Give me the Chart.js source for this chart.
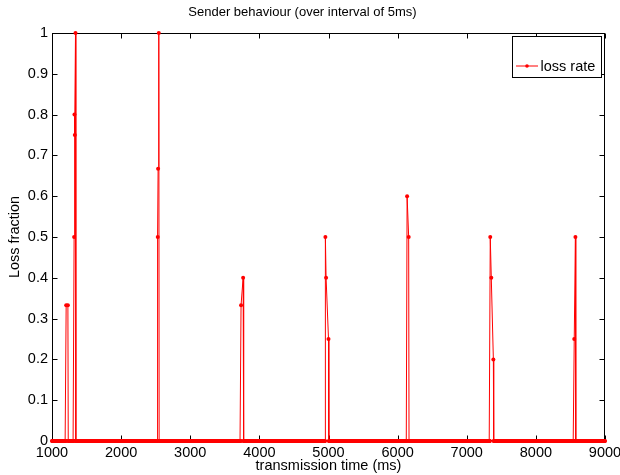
<!DOCTYPE html>
<html><head><meta charset="utf-8">
<script src="https://cdn.jsdelivr.net/npm/chart.js@4/dist/chart.umd.min.js"></script>
<style>html,body{margin:0;padding:0;background:#fff}#wrap{width:620px;height:475px}</style>
</head><body><div id="wrap"><canvas id="c" width="620" height="475"></canvas></div>
<script>
const titleText = 'Sender behaviour (over interval of 5ms)';
const xAxisTitle = 'transmission time (ms)';
const yAxisTitle = 'Loss fraction';
const seriesName = 'loss rate';

const xTicks = [1000, 2000, 3000, 4000, 5000, 6000, 7000, 8000, 9000];
const xTickLabels = ['1000', '2000', '3000', '4000', '5000', '6000', '7000', '8000', '9000'];
const yTicks = [0, 0.1, 0.2, 0.3, 0.4, 0.5, 0.6, 0.7, 0.8, 0.9, 1];
const yTickLabels = ['0', '0.1', '0.2', '0.3', '0.4', '0.5', '0.6', '0.7', '0.8', '0.9', '1'];

// zero-loss samples every 5 ms over the run
const sampleStart = 1000, sampleEnd = 9000, sampleStep = 5;
// non-zero loss samples
const spikeTimes  = [1205, 1230, 1320, 1325, 1330, 1340, 2530, 2535, 2545, 3735, 3765, 4955, 4965, 5000, 6137, 6160, 7340, 7355, 7385, 8555, 8572];
const spikeValues = [0.333, 0.333, 0.5, 0.8, 0.75, 1.0, 0.5, 0.667, 1.0, 0.333, 0.4, 0.5, 0.4, 0.25, 0.6, 0.5, 0.5, 0.4, 0.2, 0.25, 0.5];

// build series
const clusters = [];
spikeTimes.forEach((t, i) => {
  const last = clusters[clusters.length - 1];
  if (last && t - last[1] <= 50) last[1] = t; else clusters.push([t, t]);
});
const points = [];
for (let t = sampleStart; t <= sampleEnd; t += sampleStep) {
  if (clusters.some(c => t >= c[0] && t <= c[1])) continue;
  points.push({x: t, y: 0});
}
spikeTimes.forEach((t, i) => points.push({x: t, y: spikeValues[i]}));
points.sort((a, b) => a.x - b.x);

const FONT = "'Liberation Sans', Arial, Helvetica, sans-serif";
const RED = 'rgb(255,0,0)';

const framePlugin = {
  id: 'frame',
  beforeDatasetsDraw(chart) {
    const {ctx, chartArea: a, scales} = chart;
    const L = Math.round(a.left) + 0.5, R = Math.round(a.right) - 0.5;
    const T = Math.round(a.top) + 0.5, B = Math.round(a.bottom) - 0.5;
    ctx.save();
    ctx.strokeStyle = '#000';
    ctx.lineWidth = 1;
    ctx.strokeRect(L, T, R - L, B - T);
    const len = 5;
    ctx.beginPath();
    xTicks.forEach(v => {
      const x = Math.round(scales.x.getPixelForValue(v)) + 0.5;
      ctx.moveTo(x, B); ctx.lineTo(x, B - len);
      ctx.moveTo(x, T); ctx.lineTo(x, T + len);
    });
    yTicks.forEach(v => {
      const y = Math.round(scales.y.getPixelForValue(v)) + 0.5;
      ctx.moveTo(L, y); ctx.lineTo(L + len, y);
      ctx.moveTo(R, y); ctx.lineTo(R - len, y);
    });
    ctx.stroke();
    ctx.restore();
  }
};

const legendPlugin = {
  id: 'matlabLegend',
  afterDraw(chart) {
    const {ctx} = chart;
    const ds = chart.data.datasets[0];
    ctx.save();
    const x0 = 512, y0 = 36, w = 89, h = 41;
    ctx.fillStyle = '#fff';
    ctx.fillRect(x0, y0, w, h);
    ctx.strokeStyle = '#000';
    ctx.lineWidth = 1;
    ctx.strokeRect(x0 + 0.5, y0 + 0.5, w, h);
    ctx.strokeStyle = ds.borderColor;
    ctx.beginPath();
    ctx.moveTo(516, 66); ctx.lineTo(538, 66);
    ctx.stroke();
    ctx.fillStyle = ds.pointBackgroundColor;
    ctx.beginPath();
    ctx.arc(527, 66, 1.8, 0, Math.PI * 2);
    ctx.fill();
    ctx.fillStyle = '#000';
    ctx.font = '14.5px ' + FONT;
    ctx.textBaseline = 'alphabetic';
    ctx.textAlign = 'left';
    ctx.fillText(ds.label, 540.5, 71);
    ctx.restore();
  }
};

new Chart(document.getElementById('c'), {
  type: 'scatter',
  data: {
    datasets: [{
      label: seriesName,
      data: points,
      showLine: true,
      borderColor: RED,
      borderWidth: 1,
      pointRadius: 2,
      pointBackgroundColor: RED,
      pointBorderWidth: 0,
      pointHoverRadius: 0,
      clip: false
    }]
  },
  options: {
    responsive: false,
    devicePixelRatio: 1,
    animation: false,
    events: [],
    layout: {padding: {left: 0, right: 15, top: 0, bottom: 0}},
    plugins: {
      legend: {display: false},
      tooltip: {enabled: false},
      title: {
        display: true,
        text: titleText,
        color: '#000',
        font: {family: FONT, size: 13, weight: 'normal', lineHeight: 1.2},
        padding: {top: 4.2, bottom: 13.2}
      }
    },
    scales: {
      x: {
        type: 'linear',
        min: 1000, max: 9000,
        afterBuildTicks: s => { s.ticks = xTicks.map(v => ({value: v})); },
        afterFit: s => { s.height = 34; s.paddingLeft = 0; s.paddingRight = 0; },
        ticks: {
          callback: v => xTickLabels[xTicks.indexOf(v)],
          color: '#000',
          font: {family: FONT, size: 14.5},
          padding: 3,
          maxRotation: 0,
          autoSkip: false
        },
        grid: {display: false, drawOnChartArea: false, drawTicks: false},
        border: {display: false},
        title: {
          display: true, text: xAxisTitle, color: '#000',
          font: {family: FONT, size: 14.5, lineHeight: 1.2},
          padding: {top: 0, bottom: 0}
        }
      },
      y: {
        type: 'linear',
        min: 0, max: 1,
        afterBuildTicks: s => { s.ticks = yTicks.map(v => ({value: v})); },
        afterFit: s => { s.width = 52; s.paddingTop = 0; s.paddingBottom = 0; },
        ticks: {
          callback: v => yTickLabels[yTicks.indexOf(v)],
          color: '#000',
          font: {family: FONT, size: 14.5},
          padding: 4,
          autoSkip: false
        },
        grid: {display: false, drawOnChartArea: false, drawTicks: false},
        border: {display: false},
        title: {
          display: true, text: yAxisTitle, color: '#000',
          font: {family: FONT, size: 14.5, lineHeight: 1.2},
          padding: {top: 5.8, bottom: 0}
        }
      }
    }
  },
  plugins: [framePlugin, legendPlugin]
});
</script>
</body></html>
